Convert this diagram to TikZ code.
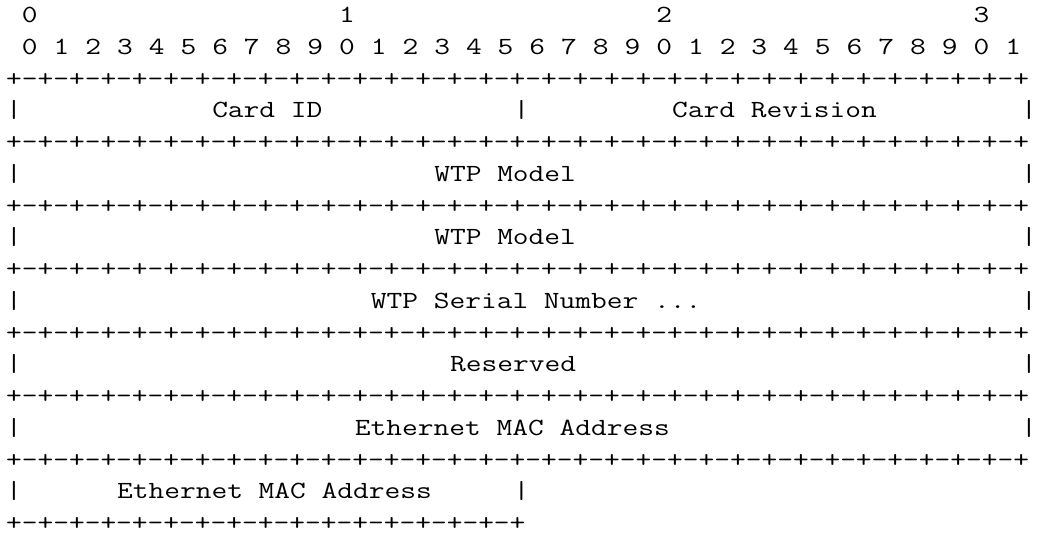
\documentclass[tikz,border=0pt]{standalone}
\usepackage{fontspec}
\newfontfamily\pktmono{Latin Modern Mono}[FakeStretch=1.239]
\tikzset{
  every node/.style={font=\pktmono\fontsize{18.5}{22}\selectfont,
    inner sep=0pt,outer sep=0pt,anchor=base west,text=black},
  bitnum/.style={},
  fieldname/.style={},
  wall/.style={},
  ruler/.style={}
}
\newcommand{\pktsep}{+-+-+-+-+-+-+-+-+-+-+-+-+-+-+-+-+-+-+-+-+-+-+-+-+-+-+-+-+-+-+-+-+}
\newcommand{\pkthalf}{+-+-+-+-+-+-+-+-+-+-+-+-+-+-+-+-+}

\begin{document}
\begin{tikzpicture}[x=11.895pt,y=-23.8125pt]
  \useasboundingbox (0,0) rectangle (65.385,16.787);
  \begin{scope}[shift={(0.383,0.712)}]
  % Numeracao dos bits: dezenas e unidades.
  \foreach \d in {0,1,2,3}
    \node[bitnum] (tens-\d) at (1+20*\d,0) {\d};
  \foreach \b in {0,...,31}{
    \pgfmathtruncatemacro{\u}{mod(\b,10)}
    \node[bitnum] (bit-\b) at (2*\b+1,1) {\u};
  }

  % Linhas de separacao entre as palavras.
  \foreach \r in {2,4,...,14}
    \node[ruler] (sep-\r) at (0,\r) {\pktsep};
  \node[ruler] (sep-16) at (0,16) {\pkthalf};

  % Bordas laterais dos campos.
  \foreach \r in {3,5,...,13}{
    \node[wall] (left-\r) at (0,\r) {|};
    \node[wall] (right-\r) at (64,\r) {|};
  }
  \node[wall] (mid-3) at (32,3) {|};
  \node[wall] (left-15) at (0,15) {|};
  \node[wall] (mid-15) at (32,15) {|};

  % Campos do registro.
  \node[fieldname] (cardid) at (13,3) {Card ID};
  \node[fieldname] (cardrev) at (42,3) {Card Revision};
  \node[fieldname] (model-a) at (27,5) {WTP Model};
  \node[fieldname] (model-b) at (27,7) {WTP Model};
  \node[fieldname] (serial) at (23,9) {WTP Serial Number ...};
  \node[fieldname] (reserved) at (28,11) {Reserved};
  \node[fieldname] (mac-a) at (22,13) {Ethernet MAC Address};
  \node[fieldname] (mac-b) at (7,15) {Ethernet MAC Address};
  \end{scope}
\end{tikzpicture}
\end{document}
